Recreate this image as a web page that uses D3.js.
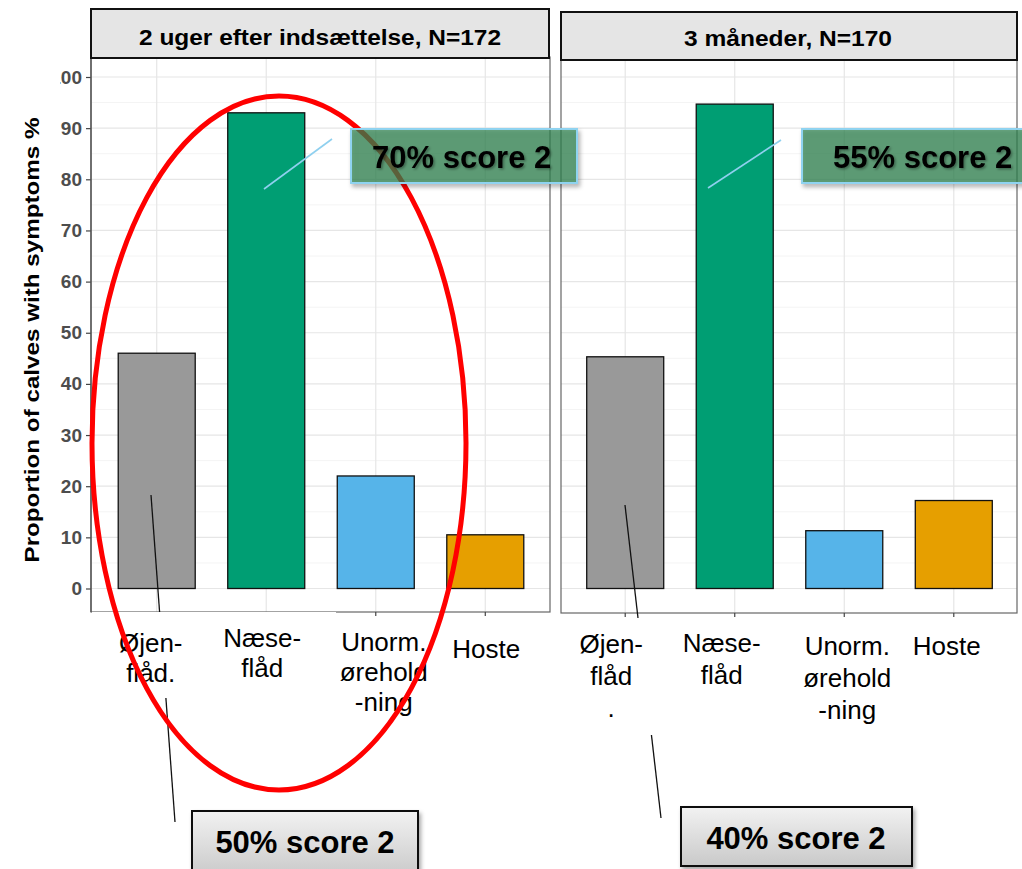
<!DOCTYPE html>
<html>
<head>
<meta charset="utf-8">
<script src="https://cdn.jsdelivr.net/npm/d3@7"></script>
<style>
  html, body { margin: 0; padding: 0; background: #ffffff; }
  svg { display: block; font-family: "Liberation Sans", Arial, sans-serif; }
</style>
</head>
<body>
<svg id="chart" width="1022" height="869"></svg>
<script>
// ---------------- data ----------------
const categories = ["Øjenflåd", "Næseflåd", "Unorm. øreholdning", "Hoste"];
const labels2uger = [["Øjen-", "flåd."], ["Næse-", "flåd"], ["Unorm.", "ørehold", "-ning"], ["Hoste"]];
const labels3mdr  = [["Øjen-", "flåd", "."], ["Næse-", "flåd"], ["Unorm.", "ørehold", "-ning"], ["Hoste"]];
const values2uger = [46, 93, 22, 10.5];
const values3mdr  = [45.3, 94.7, 11.3, 17.2];
const barColors   = ["#999999", "#009E73", "#56B4E9", "#E69F00"];
const yTicks      = [0, 10, 20, 30, 40, 50, 60, 70, 80, 90, 100];
const yMinor      = [5, 15, 25, 35, 45, 55, 65, 75, 85, 95];
const stripTitles = ["2 uger efter indsættelse,  N=172", "3 måneder,  N=170"];
const yTitle      = "Proportion of calves with symptoms %";
const score2Nose  = ["70% score 2", "55% score 2"];
const score2Eye   = ["50% score 2", "40% score 2"];

// ---------------- layout ----------------
const svg = d3.select("#chart");
const defs = svg.append("defs");

const y = d3.scaleLinear().domain([0, 100]).range([588.5, 77]);

const panels = [
  { range: [91, 551], top: 57, bottom: 612, strip: [91, 549, 9, 58], values: values2uger, labels: labels2uger,
    labelDx: [-6, -4, 8, 1], labelY: [652, 647, 651, 658], lineGap: 30, title: stripTitles[0], titleLen: 362, titleX: 320, titleY: 45 },
  { range: [559.5, 1019.5], top: 60, bottom: 613, strip: [561, 1017, 12, 60], values: values3mdr, labels: labels3mdr,
    labelDx: [-14, -13, 3, -7], labelY: [653, 652, 655, 655], lineGap: 32, title: stripTitles[1], titleLen: 208, titleX: 788, titleY: 46 }
];

// filters / gradients
const sh = defs.append("filter").attr("id", "shadow").attr("x", "-10%").attr("y", "-20%").attr("width", "130%").attr("height", "160%");
sh.append("feDropShadow").attr("dx", 2).attr("dy", 3).attr("stdDeviation", 2).attr("flood-color", "#000").attr("flood-opacity", 0.35);
const tsh = defs.append("filter").attr("id", "tshadow").attr("x", "-10%").attr("y", "-30%").attr("width", "130%").attr("height", "160%");
tsh.append("feDropShadow").attr("dx", 1.5).attr("dy", 1.5).attr("stdDeviation", 1.2).attr("flood-color", "#000").attr("flood-opacity", 0.35);
const grad = defs.append("linearGradient").attr("id", "greyGrad").attr("x1", 0).attr("y1", 0).attr("x2", 0).attr("y2", 1);
grad.append("stop").attr("offset", "0%").attr("stop-color", "#f2f2f2");
grad.append("stop").attr("offset", "100%").attr("stop-color", "#c9c9c9");
// clip (in the y-axis group's local coordinates, which is translated by 91)
defs.append("clipPath").attr("id", "yclip").append("rect").attr("x", -31).attr("y", 0).attr("width", 60).attr("height", 869);

const xScales = [];
panels.forEach((p, pi) => {
  const x = d3.scaleBand().domain(categories).range(p.range).paddingInner(0.297).paddingOuter(0.2485);
  xScales.push(x);
  const g = svg.append("g");
  const left = pi === 0 ? p.range[0] : 561;
  const right = pi === 0 ? 550 : 1017;

  g.append("rect").attr("x", left).attr("y", p.top).attr("width", right - left).attr("height", p.bottom - p.top)
    .attr("fill", "#ffffff");

  g.selectAll(".minor").data(yMinor).join("line")
    .attr("x1", left).attr("x2", right).attr("y1", d => y(d)).attr("y2", d => y(d))
    .attr("stroke", "#f4f4f4").attr("stroke-width", 1);
  g.selectAll(".major").data(yTicks).join("line")
    .attr("x1", left).attr("x2", right).attr("y1", d => y(d)).attr("y2", d => y(d))
    .attr("stroke", "#e6e6e6").attr("stroke-width", 1.2);
  g.selectAll(".vgrid").data(categories).join("line")
    .attr("x1", d => x(d) + x.bandwidth() / 2).attr("x2", d => x(d) + x.bandwidth() / 2)
    .attr("y1", p.top).attr("y2", p.bottom)
    .attr("stroke", "#e6e6e6").attr("stroke-width", 1.2);

  g.selectAll(".bar").data(categories).join("rect")
    .attr("x", d => x(d)).attr("width", x.bandwidth())
    .attr("y", (d, i) => y(p.values[i]))
    .attr("height", (d, i) => y(0) - y(p.values[i]))
    .attr("fill", (d, i) => barColors[i])
    .attr("stroke", "#111111").attr("stroke-width", 1.3);

  g.append("rect").attr("x", left).attr("y", p.top).attr("width", right - left).attr("height", p.bottom - p.top)
    .attr("fill", "none").attr("stroke", "#666666").attr("stroke-width", 1.2);

  g.selectAll(".xt").data(categories).join("line")
    .attr("x1", d => x(d) + x.bandwidth() / 2).attr("x2", d => x(d) + x.bandwidth() / 2)
    .attr("y1", p.bottom).attr("y2", p.bottom + 4)
    .attr("stroke", "#444").attr("stroke-width", 1.2);
});

// y axis (left panel only)
const yAxisG = svg.append("g").attr("transform", "translate(91,0)").attr("clip-path", "url(#yclip)");
yAxisG.call(d3.axisLeft(y).tickValues(yTicks).tickSize(5).tickPadding(4).tickFormat(d3.format("d")));
yAxisG.select(".domain").remove();
yAxisG.selectAll(".tick line").attr("stroke", "#444").attr("stroke-width", 1.2);
yAxisG.selectAll(".tick text")
  .style("font-size", "19px").style("font-weight", "bold").style("fill", "#4d4d4d")
  .style("font-family", "Liberation Sans, Arial, sans-serif");
svg.append("line").attr("x1", 91).attr("x2", 91).attr("y1", 57).attr("y2", 612).attr("stroke", "#555").attr("stroke-width", 1.3);

// y title
svg.append("text")
  .attr("transform", "translate(39,340) rotate(-90)")
  .attr("text-anchor", "middle")
  .attr("font-size", 21).attr("font-weight", "bold").attr("fill", "#000")
  .attr("textLength", 445).attr("lengthAdjust", "spacingAndGlyphs")
  .text(yTitle);

// pointer lines from eye-discharge bars to score boxes
const eyePointers = [
  { x1: 151, y1: 495, x2: 175, y2: 822 },
  { x1: 625, y1: 505, x2: 661, y2: 818 }
];
svg.selectAll(".eyeptr").data(eyePointers).join("line")
  .attr("x1", d => d.x1).attr("y1", d => d.y1).attr("x2", d => d.x2).attr("y2", d => d.y2)
  .attr("stroke", "#111").attr("stroke-width", 1.3);

// white label boxes (cover part of the pointer lines)
svg.append("rect").attr("x", 92).attr("y", 612).attr("width", 244).attr("height", 86).attr("fill", "#fff");
svg.append("rect").attr("x", 562).attr("y", 618).attr("width", 140).attr("height", 117).attr("fill", "#fff");

// x labels
panels.forEach((p, pi) => {
  const x = xScales[pi];
  categories.forEach((c, i) => {
    const cx = x(c) + x.bandwidth() / 2 + p.labelDx[i];
    const t = svg.append("text").attr("text-anchor", "middle").attr("font-size", 26).attr("fill", "#000");
    p.labels[i].forEach((line, li) => {
      t.append("tspan").attr("x", cx).attr("y", p.labelY[i] + li * p.lineGap).text(line);
    });
  });
});

// strips
panels.forEach(p => {
  const [x0, x1, y0, y1] = p.strip;
  svg.append("rect").attr("x", x0).attr("y", y0).attr("width", x1 - x0).attr("height", y1 - y0)
    .attr("fill", "#e5e5e5").attr("stroke", "#111").attr("stroke-width", 2);
  svg.append("text").attr("x", p.titleX).attr("y", p.titleY).attr("text-anchor", "middle")
    .attr("font-size", 22).attr("font-weight", "bold").attr("fill", "#000")
    .attr("textLength", p.titleLen).attr("lengthAdjust", "spacingAndGlyphs")
    .text(p.title);
});

// light blue pointer lines for nasal discharge
const nosePointers = [
  { x1: 264, y1: 189, x2: 332, y2: 139 },
  { x1: 708, y1: 188, x2: 781, y2: 140 }
];
svg.selectAll(".noseptr").data(nosePointers).join("line")
  .attr("x1", d => d.x1).attr("y1", d => d.y1).attr("x2", d => d.x2).attr("y2", d => d.y2)
  .attr("stroke", "#8fd0ef").attr("stroke-width", 1.6);

// red ellipse
svg.append("ellipse").attr("cx", 279).attr("cy", 443).attr("rx", 187).attr("ry", 347)
  .attr("fill", "none").attr("stroke", "#ff0000").attr("stroke-width", 5);

// green annotation boxes
const greenBoxes = [
  { x: 351, y: 129, w: 226, h: 54, tx: 372, ty: 168, text: score2Nose[0] },
  { x: 802, y: 129, w: 240, h: 54, tx: 833, ty: 168, text: score2Nose[1] }
];
greenBoxes.forEach(b => {
  svg.append("rect").attr("x", b.x).attr("y", b.y).attr("width", b.w).attr("height", b.h)
    .attr("fill", "rgb(45,130,80)").attr("fill-opacity", 0.7)
    .attr("stroke", "#8fd3f0").attr("stroke-width", 2).attr("filter", "url(#shadow)");
  svg.append("text").attr("x", b.tx).attr("y", b.ty).attr("font-size", 31).attr("font-weight", "bold")
    .attr("fill", "#000").attr("filter", "url(#tshadow)").text(b.text);
});

// grey annotation boxes
const greyBoxes = [
  { x: 192, y: 811, w: 226, h: 66, cx: 305, ty: 853, text: score2Eye[0] },
  { x: 681, y: 807, w: 231, h: 59, cx: 796, ty: 849, text: score2Eye[1] }
];
greyBoxes.forEach(b => {
  svg.append("rect").attr("x", b.x).attr("y", b.y).attr("width", b.w).attr("height", b.h)
    .attr("fill", "url(#greyGrad)").attr("stroke", "#111").attr("stroke-width", 2).attr("filter", "url(#shadow)");
  svg.append("text").attr("x", b.cx).attr("y", b.ty).attr("text-anchor", "middle")
    .attr("font-size", 31).attr("font-weight", "bold").attr("fill", "#000").text(b.text);
});
</script>
</body>
</html>
